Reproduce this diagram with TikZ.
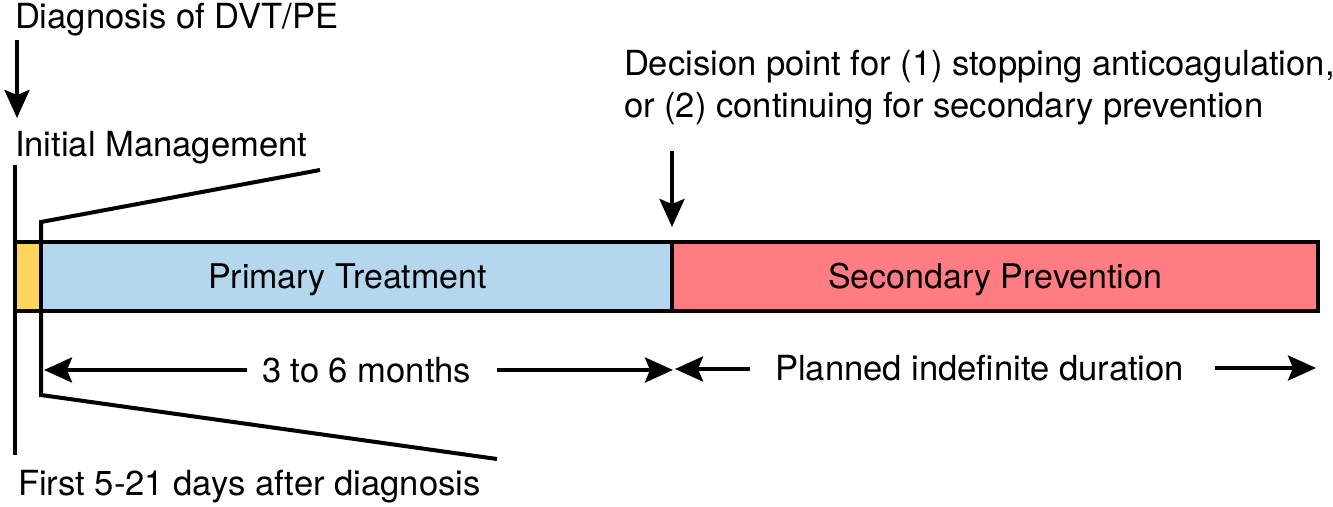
\documentclass[tikz,border=0pt]{standalone}
\usepackage{fontspec}
\setmainfont{TeX Gyre Heros}
\usetikzlibrary{arrows.meta}
\definecolor{initcol}{RGB}{255,212,92}
\definecolor{primcol}{RGB}{180,215,238}
\definecolor{seccol}{RGB}{255,124,130}
\tikzset{
  lbl/.style={inner sep=0pt, outer sep=0pt, anchor=base west, font=\fontsize{34.6}{41}\selectfont},
  phase/.style={draw=black, line width=4pt, anchor=north west, inner sep=0pt, outer sep=0pt,
    minimum height=69pt, text height=24pt, text depth=0pt, font=\fontsize{34}{41}\selectfont},
  thick line/.style={line width=4pt},
  pointer/.style={line width=4pt, -{Stealth[length=28pt,width=25pt,inset=5pt]}},
}
\begin{document}
\begin{tikzpicture}[x=1pt,y=-1pt]
\useasboundingbox (0,0) rectangle (1333,506);

% labels
\node[lbl] (diag) at (15,28) {Diagnosis of DVT/PE};
\node[lbl] (init) at (15,156) {Initial Management};
\node[lbl] (first) at (18,495) {First 5-21 days after diagnosis};
\node[lbl] (dec1) at (624,75) {Decision point for (1) stopping anticoagulation,};
\node[lbl] (dec2) at (624,117) {or (2) continuing for secondary prevention};
\node[lbl] (months) at (262,382) {3 to 6 months};
\node[lbl] (indef) at (775,380) {Planned indefinite duration};

% left time marker and bracket around the initial phase
\coordinate (mtop) at (15,165);
\coordinate (mbot) at (15,455);
\draw[thick line] (mtop) -- (mbot);
\coordinate (btop) at (320,170);
\coordinate (bkt1) at (41,222);
\coordinate (bkt2) at (41,395);
\coordinate (bbot) at (497,459);
\draw[thick line] (btop) -- (bkt1) -- (bkt2) -- (bbot);

% phase bar
\node[phase, fill=initcol, minimum width=26pt] (ini) at (15,242) {};
\node[phase, fill=primcol, minimum width=631pt] (prim) at (41,242) {\hspace*{-18pt}Primary Treatment};
\node[phase, fill=seccol, minimum width=646pt] (sec) at (672,242) {Secondary Prevention};

% event pointers
\coordinate (da) at (17,40);
\coordinate (db) at (17,118);
\draw[pointer] (da) -- (db);
\coordinate (pa) at (672,151);
\coordinate (pb) at (672,227);
\draw[pointer] (pa) -- (pb);

% duration arrows
\coordinate (m1) at (247,370);
\coordinate (m1t) at (44,370);
\coordinate (m2) at (497,370);
\coordinate (m2t) at (673,370);
\coordinate (s1) at (750,369);
\coordinate (s1t) at (675,369);
\coordinate (s2) at (1215,368);
\coordinate (s2t) at (1316,368);
\draw[pointer] (m1) -- (m1t);
\draw[pointer] (m2) -- (m2t);
\draw[pointer] (s1) -- (s1t);
\draw[pointer] (s2) -- (s2t);
\end{tikzpicture}
\end{document}
